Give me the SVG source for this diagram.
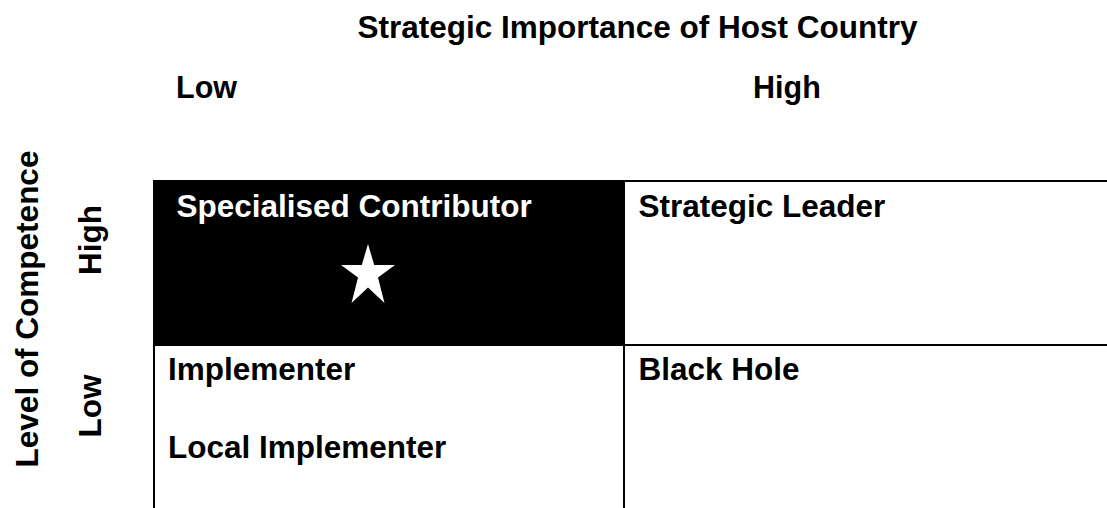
<svg xmlns="http://www.w3.org/2000/svg" width="1107" height="508" viewBox="0 0 1107 508">
<style>
text{font-family:"Liberation Sans",Arial,sans-serif;font-weight:bold;font-size:31.5px;fill:#000}
.w{fill:#fff}
.ln{stroke:#000;stroke-width:2;fill:none}
</style>
<rect width="1107" height="508" fill="#fff"/>
<g id="axis-x">
<text x="637.5" y="38" text-anchor="middle">Strategic Importance of Host Country</text>
<text x="176" y="98" style="font-size:30.5px">Low</text>
<text x="753" y="98" style="font-size:30.5px">High</text>
</g>
<g id="axis-y">
<text transform="translate(38,309) rotate(-90)" text-anchor="middle">Level of Competence</text>
<text transform="translate(101,240) rotate(-90)" text-anchor="middle">High</text>
<text transform="translate(101,406) rotate(-90)" text-anchor="middle">Low</text>
</g>
<g id="grid">
<line class="ln" x1="624" y1="181" x2="1107" y2="181"/>
<line class="ln" x1="624" y1="345" x2="1107" y2="345"/>
<line class="ln" x1="154" y1="345" x2="154" y2="508"/>
<line class="ln" x1="624" y1="181" x2="624" y2="508"/>
</g>
<g id="specialised-contributor">
<rect x="153" y="180" width="472" height="166" fill="#000"/>
<text class="w" x="176.5" y="216.5">Specialised Contributor</text>
<polygon fill="#fff" points="368,244 374.2,265 395,265 378,277.5 384.5,303 368,287.5 351.5,303 358,277.5 341,265 361.8,265"/>
</g>
<g id="strategic-leader">
<text x="638.5" y="216.5">Strategic Leader</text>
</g>
<g id="implementer">
<text x="168" y="380">Implementer</text>
<text x="168" y="458">Local Implementer</text>
</g>
<g id="black-hole">
<text x="638.5" y="380">Black Hole</text>
</g>
</svg>
